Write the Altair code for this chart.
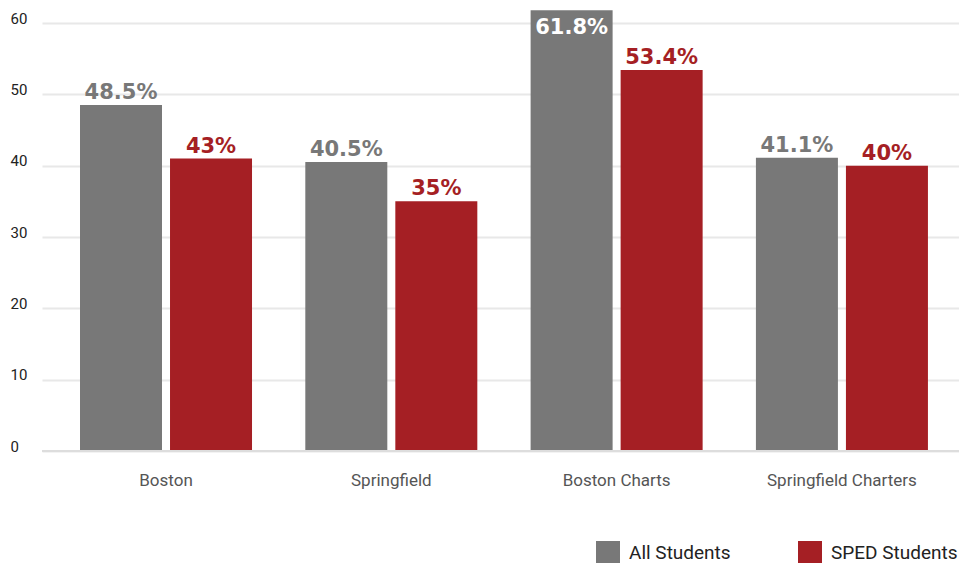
import altair as alt
import pandas as pd

categories = ["Boston", "Springfield", "Boston Charts", "Springfield Charters"]
series = ["All Students", "SPED Students"]
all_values = [48.5, 40.5, 61.8, 41.1]
sped_values = [41.0, 35.0, 53.4, 40.0]
all_labels = ["48.5%", "40.5%", "61.8%", "41.1%"]
sped_labels = ["43%", "35%", "53.4%", "40%"]
colors = ["#787878", "#A51F24"]
y_ticks = [0, 10, 20, 30, 40, 50, 60]

rows = []
for i, c in enumerate(categories):
    rows.append({"cat": c, "series": series[0], "value": all_values[i], "label": all_labels[i]})
    rows.append({"cat": c, "series": series[1], "value": sped_values[i], "label": sped_labels[i]})
df = pd.DataFrame(rows)
df["inside"] = df["value"] > 58

W, H = 917, 428
FONT = "Roboto, sans-serif"

x_scale = alt.Scale(paddingInner=0, paddingOuter=0.035, align=0.72)
xo_scale = alt.Scale(paddingInner=0.089, paddingOuter=0.296)
y_scale = alt.Scale(domain=[0, 60], nice=False)

x_enc = alt.X("cat:N", sort=categories, scale=x_scale,
              axis=alt.Axis(title=None, labelAngle=0, domain=False, ticks=False,
                            labelFont=FONT, labelFontSize=17, labelColor="#555555",
                            labelPadding=21))
xo_enc = alt.XOffset("series:N", sort=series, scale=xo_scale)

base = alt.Chart(df)

bars = base.mark_bar(size=82).encode(
    x=x_enc,
    xOffset=xo_enc,
    y=alt.Y("value:Q", scale=y_scale,
            axis=alt.Axis(title=None, values=y_ticks, grid=True, gridColor="#e8e8e8",
                          gridWidth=2, domain=False, ticks=False, labelAlign="left",
                          labelPadding=32, labelBaseline="alphabetic",
                          labelFont=FONT, labelFontSize=15, labelColor="#222222")),
    color=alt.Color("series:N", sort=series,
                    scale=alt.Scale(domain=series, range=colors),
                    legend=alt.Legend(title=None, orient="none", legendX=554, legendY=518,
                                      direction="horizontal", symbolType="square",
                                      symbolSize=576, symbolStrokeWidth=0,
                                      symbolOpacity=1,
                                      labelFont=FONT, labelFontSize=19, labelColor="#222222",
                                      labelOffset=9, columnPadding=67, labelLimit=300)),
)

labels_out = base.transform_filter("!datum.inside").mark_text(
    baseline="alphabetic", dy=-6, fontSize=21, fontWeight="bold",
    font="DejaVu Sans, sans-serif"
).encode(
    x=alt.X("cat:N", sort=categories, scale=x_scale, title=None),
    xOffset=alt.XOffset("series:N", sort=series, scale=xo_scale),
    y=alt.Y("value:Q", scale=y_scale, title=None),
    text="label:N",
    color=alt.Color("series:N", sort=series, scale=alt.Scale(domain=series, range=colors), legend=None),
)

labels_in = base.transform_filter("datum.inside").mark_text(
    baseline="top", dy=7, fontSize=21, fontWeight="bold",
    font="DejaVu Sans, sans-serif", color="white"
).encode(
    x=alt.X("cat:N", sort=categories, scale=x_scale, title=None),
    xOffset=alt.XOffset("series:N", sort=series, scale=xo_scale),
    y=alt.Y("value:Q", scale=y_scale, title=None),
    text="label:N",
)

baseline = alt.Chart(pd.DataFrame({"v": [0]})).mark_rule(color="#dddddd", strokeWidth=2).encode(
    y=alt.Y("v:Q", scale=y_scale, title=None)
)

chart = alt.layer(bars, baseline, labels_out, labels_in).properties(
    width=W, height=H,
    background="white",
    autosize=alt.AutoSizeParams(type="none"),
    padding={"left": 42, "top": 23, "right": 0, "bottom": 112},
).configure_view(stroke=None).configure_axis(domain=False, ticks=False)

chart.save("out.html", embed_options={"renderer": "svg", "actions": False})
